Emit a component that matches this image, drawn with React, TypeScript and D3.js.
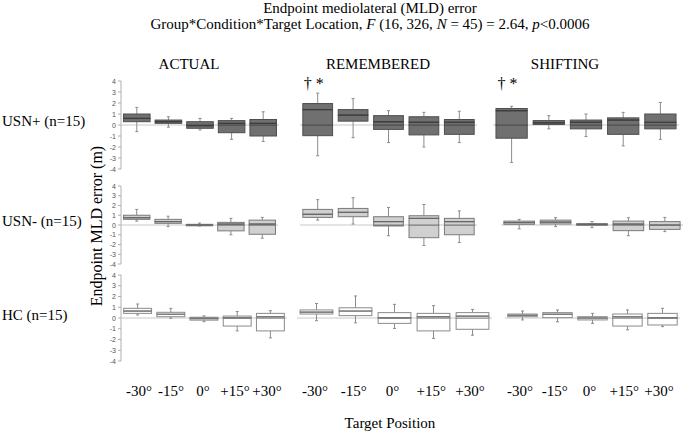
import React from "react";
import * as d3 from "d3";

const conditions = ["ACTUAL", "REMEMBERED", "SHIFTING"];
const groups = ["USN+ (n=15)", "USN- (n=15)", "HC (n=15)"];
const targets = ["-30°", "-15°", "0°", "+15°", "+30°"];
const yTicks = [4, 3, 2, 1, 0, -1, -2, -3, -4];

// each box: [min, q1, median, q3, max], one per target
const usnPlusActual = [[-0.6, 0.3, 0.6, 1.0, 1.6], [-0.2, 0.15, 0.3, 0.45, 0.75], [-0.45, -0.3, -0.05, 0.3, 0.6], [-1.3, -0.7, 0.15, 0.4, 0.6], [-1.5, -1.0, 0.15, 0.5, 1.2]];
const usnPlusRemembered = [[-2.8, -0.97, 1.4, 1.95, 2.9], [-1.15, 0.35, 0.9, 1.4, 2.4], [-1.6, -0.4, 0.3, 0.85, 1.3], [-2.0, -0.9, 0.25, 0.75, 1.15], [-1.6, -0.85, 0.25, 0.5, 1.25]];
const usnPlusShifting = [[-3.4, -1.2, 1.3, 1.5, 1.7], [-0.35, 0.05, 0.2, 0.4, 0.85], [-1.05, -0.35, 0.25, 0.45, 1.0], [-1.9, -0.85, 0.45, 0.65, 1.15], [-1.3, -0.35, 0.25, 1.0, 2.05]];
const usnMinusActual = [[0.4, 0.58, 0.75, 1.0, 1.6], [-0.17, 0.17, 0.35, 0.58, 0.9], [-0.1, -0.07, 0, 0.07, 0.2], [-1.0, -0.6, 0.1, 0.27, 0.68], [-1.35, -0.95, 0.1, 0.5, 0.78]];
const usnMinusRemembered = [[0.5, 0.78, 1.1, 1.6, 2.6], [0.1, 0.85, 1.3, 1.7, 2.8], [-1.1, -0.1, 0.35, 0.85, 1.8], [-2.1, -1.3, 0.68, 0.95, 2.1], [-1.8, -1.0, 0.35, 0.68, 1.45]];
const usnMinusShifting = [[-0.4, 0.07, 0.25, 0.4, 0.58], [-0.17, 0.1, 0.3, 0.5, 0.75], [-0.27, 0, 0.05, 0.15, 0.35], [-1.1, -0.58, 0.1, 0.4, 0.75], [-0.68, -0.45, 0, 0.35, 0.78]];
const hcActual = [[0.28, 0.43, 0.65, 0.9, 1.3], [-0.03, 0.12, 0.35, 0.53, 0.9], [-0.35, -0.2, -0.05, 0.07, 0.2], [-1.2, -0.75, 0.03, 0.18, 0.6], [-1.85, -1.2, 0.12, 0.43, 0.68]];
const hcRemembered = [[-0.25, 0.37, 0.55, 0.75, 1.35], [-0.45, 0.22, 0.65, 0.95, 2.05], [-0.97, -0.5, 0.03, 0.5, 1.27], [-1.9, -1.2, 0.12, 0.43, 1.15], [-1.6, -1.05, 0.18, 0.5, 0.8]];
const hcShifting = [[-0.18, 0.12, 0.25, 0.37, 0.65], [-0.35, 0.03, 0.35, 0.5, 0.75], [-0.5, -0.18, 0, 0.12, 0.43], [-1.1, -0.75, 0.12, 0.37, 0.75], [-0.8, -0.65, 0.03, 0.43, 0.9]];

const boxes = [
  [usnPlusActual, usnPlusRemembered, usnPlusShifting],
  [usnMinusActual, usnMinusRemembered, usnMinusShifting],
  [hcActual, hcRemembered, hcShifting],
];

// significance marks: [row, condition]
const marks = [[0, 1], [0, 2]];

// layout
const W = 685, H = 432;
const serif = "'Liberation Serif', 'Times New Roman', serif";
const sans = "'Liberation Sans', Arial, sans-serif";
const rowY = [[81, 169], [186, 264], [275, 361]];
const rowLabelY = [121, 221, 315];
const panelX = [
  [[121, 279], [300, 477], [493, 679]],
  [[121, 278], [300, 477], [501, 683]],
  [[121, 287], [297, 492], [505, 680]],
];
const labelX = [[139, 267], [315, 470], [520, 659]];
const headerX = [189, 378, 565];
const rowStyle = [
  { fill: "#707070", stroke: "#4e4e4e", med: "#3c3c3c" },
  { fill: "#d0d0d0", stroke: "#7a7a7a", med: "#666" },
  { fill: "#ffffff", stroke: "#8a8a8a", med: "#777" },
];

function Box({ d, x, bw, y, st }) {
  const [mn, q1, med, q3, mx] = d;
  let cuts = [q1, med, q3];
  if (q1 < 0 && q3 > 0) cuts.push(0);
  cuts = Array.from(new Set(cuts)).sort((a, b) => a - b);
  const cx = x + bw / 2;
  const segs = [];
  for (let i = 0; i < cuts.length - 1; i++) {
    segs.push(
      <rect key={i} x={x} y={y(cuts[i + 1])} width={bw} height={Math.max(0.8, y(cuts[i]) - y(cuts[i + 1]))}
        fill={st.fill} stroke={st.stroke} strokeWidth={1} />
    );
  }
  return (
    <g>
      <line x1={cx} x2={cx} y1={y(mx)} y2={y(q3)} stroke="#8c8c8c" strokeWidth={1} />
      <line x1={cx} x2={cx} y1={y(q1)} y2={y(mn)} stroke="#8c8c8c" strokeWidth={1} />
      <line x1={cx - 1.5} x2={cx + 1.5} y1={y(mx)} y2={y(mx)} stroke="#8c8c8c" />
      <line x1={cx - 1.5} x2={cx + 1.5} y1={y(mn)} y2={y(mn)} stroke="#8c8c8c" />
      {segs}
      <line x1={x} x2={x + bw} y1={y(med)} y2={y(med)} stroke={st.med} strokeWidth={1.2} />
    </g>
  );
}

export default function App() {
  return (
    <svg width={W} height={H} style={{ position: "absolute", left: 0, top: 0, background: "#fff" }}>
      <text x={370} y={13} textAnchor="middle" fontFamily={serif} fontSize={15}>Endpoint mediolateral (MLD) error</text>
      <text x={370} y={29} textAnchor="middle" fontFamily={serif} fontSize={15}>
        Group*Condition*Target Location, <tspan fontStyle="italic">F</tspan> (16, 326, <tspan fontStyle="italic">N</tspan> = 45) = 2.64, <tspan fontStyle="italic">p</tspan>&lt;0.0006
      </text>
      {conditions.map((c, i) => (
        <text key={c} x={headerX[i]} y={69} textAnchor="middle" fontFamily={serif} fontSize={15}>{c}</text>
      ))}
      {groups.map((g, r) => (
        <text key={g} x={2} y={rowLabelY[r] + 5} fontFamily={serif} fontSize={15}>{g}</text>
      ))}
      <text transform="translate(102,226) rotate(-90)" textAnchor="middle" fontFamily={serif} fontSize={16}>Endpoint MLD error (m)</text>

      {boxes.map((row, r) => {
        const y = d3.scaleLinear().domain([4, -4]).range(rowY[r]);
        const st = rowStyle[r];
        return (
          <g key={r}>
            <line x1={121} x2={121} y1={y(4)} y2={y(-4)} stroke="#b0b0b0" />
            {yTicks.map((t) => (
              <g key={t}>
                <line x1={118} x2={121} y1={y(t)} y2={y(t)} stroke="#b0b0b0" />
                <text x={116} y={y(t) + 2.5} textAnchor="end" fontFamily={sans} fontSize={7} fill="#555">{t}</text>
              </g>
            ))}
            {row.map((panel, c) => {
              const x = d3.scaleBand().domain(targets).range(panelX[r][c]).paddingInner(0.16).paddingOuter(0.08);
              return (
                <g key={c}>
                  <line x1={panelX[r][c][0]} x2={panelX[r][c][1]} y1={y(0)} y2={y(0)} stroke="#c8c8c8" />
                  {panel.map((d, i) => (
                    <Box key={i} d={d} x={x(targets[i])} bw={x.bandwidth()} y={y} st={st} />
                  ))}
                </g>
              );
            })}
          </g>
        );
      })}

      {marks.map(([r, c]) => {
        const x = d3.scaleBand().domain(targets).range(panelX[r][c]).paddingInner(0.16).paddingOuter(0.08);
        const cx = x(targets[0]) + x.bandwidth() / 2;
        return (
          <text key={c} x={cx - 4} y={89} textAnchor="middle" fontFamily={serif} fontSize={16}>† *</text>
        );
      })}

      {conditions.map((c, i) => {
        const lx = d3.scalePoint().domain(targets).range(labelX[i]);
        return targets.map((t) => (
          <text key={c + t} x={lx(t)} y={396} textAnchor="middle" fontFamily={serif} fontSize={15}>{t}</text>
        ));
      })}
      <text x={390} y={428} textAnchor="middle" fontFamily={serif} fontSize={15}>Target Position</text>
    </svg>
  );
}
